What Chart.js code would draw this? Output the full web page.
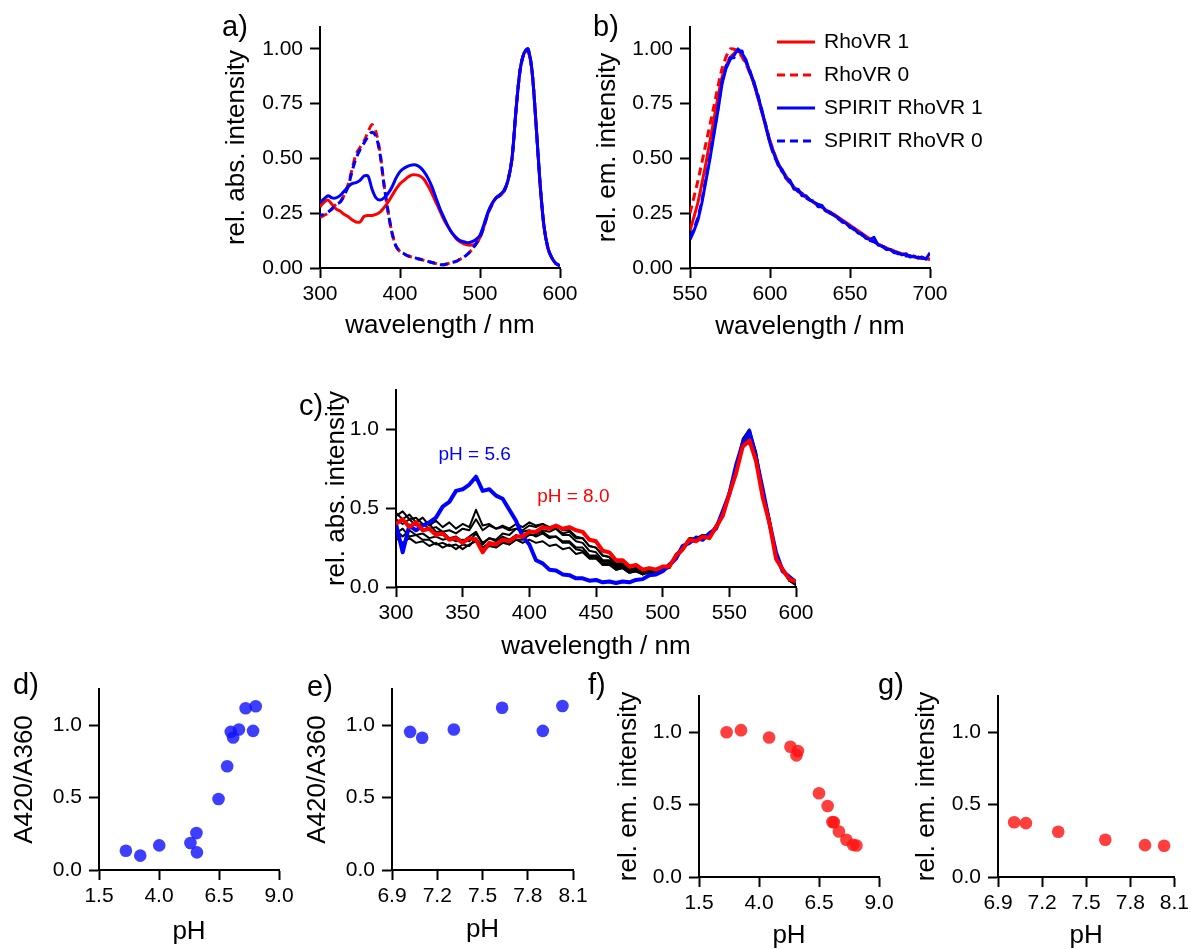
<!DOCTYPE html>
<html lang="en">
<head>
<meta charset="utf-8">
<title>RhoVR / SPIRIT RhoVR</title>
<script src="https://cdn.jsdelivr.net/npm/chart.js@4.4.1/dist/chart.umd.min.js"></script>
<style>
  html, body { margin: 0; padding: 0; background: #fff; }
  body { width: 1195px; height: 949px; position: relative; overflow: hidden;
         font-family: "Liberation Sans", Arial, Helvetica, sans-serif; }
  canvas { position: absolute; }
  .letra { position: absolute; font-size: 29px; line-height: 1; color: #000; white-space: nowrap; }
</style>
</head>
<body>
<canvas id="ga" width="390" height="350" style="left:200px;top:0px"></canvas>
<canvas id="gb" width="430" height="350" style="left:570px;top:0px"></canvas>
<canvas id="gc" width="526" height="310" style="left:300px;top:360px"></canvas>
<canvas id="gd" width="309" height="289" style="left:0px;top:660px"></canvas>
<canvas id="ge" width="313" height="289" style="left:290px;top:660px"></canvas>
<canvas id="gf" width="314" height="289" style="left:590px;top:660px"></canvas>
<canvas id="gg" width="315" height="289" style="left:880px;top:660px"></canvas>

<div class="letra" style="left:222px;top:12px">a)</div>
<div class="letra" style="left:593px;top:12px">b)</div>
<div class="letra" style="left:299px;top:391px">c)</div>
<div class="letra" style="left:13px;top:670px">d)</div>
<div class="letra" style="left:307px;top:672px">e)</div>
<div class="letra" style="left:588px;top:670px">f)</div>
<div class="letra" style="left:878px;top:670px">g)</div>

<script>
/* ---------- datos ---------- */

// longitudes de onda de absorcion (paneles a y c), cada 5 nm
const ONDA_ABS = [300, 305, 310, 315, 320, 325, 330, 335, 340, 345,
  350, 355, 360, 365, 370, 375, 380, 385, 390, 395,
  400, 405, 410, 415, 420, 425, 430, 435, 440, 445,
  450, 455, 460, 465, 470, 475, 480, 485, 490, 495,
  500, 505, 510, 515, 520, 525, 530, 535, 540, 545,
  550, 555, 560, 565, 570, 575, 580, 585, 590, 595, 600];

// a) absorcion normalizada
const ABS_RHOVR1 = [0.28, 0.30, 0.31, 0.29, 0.27, 0.26, 0.245, 0.235, 0.22, 0.21,
  0.21, 0.235, 0.24, 0.24, 0.245, 0.255, 0.275, 0.30, 0.33, 0.36,
  0.385, 0.40, 0.415, 0.425, 0.425, 0.42, 0.405, 0.375, 0.34, 0.30,
  0.26, 0.22, 0.19, 0.16, 0.135, 0.12, 0.11, 0.105, 0.105, 0.11,
  0.14, 0.19, 0.25, 0.29, 0.32, 0.33, 0.35, 0.40, 0.50, 0.72,
  0.90, 0.98, 0.99, 0.90, 0.66, 0.39, 0.19, 0.09, 0.045, 0.02, 0.01];
const ABS_RHOVR0 = [0.23, 0.24, 0.25, 0.27, 0.29, 0.30, 0.33, 0.38, 0.45, 0.52,
  0.55, 0.58, 0.62, 0.655, 0.62, 0.53, 0.38, 0.26, 0.16, 0.10,
  0.075, 0.065, 0.055, 0.05, 0.045, 0.04, 0.035, 0.03, 0.025, 0.02,
  0.015, 0.015, 0.02, 0.025, 0.03, 0.04, 0.05, 0.065, 0.085, 0.11,
  0.14, 0.19, 0.25, 0.29, 0.32, 0.33, 0.35, 0.40, 0.50, 0.72,
  0.90, 0.98, 0.99, 0.90, 0.66, 0.39, 0.19, 0.09, 0.045, 0.02, 0.01];
const ABS_SPIRIT1 = [0.30, 0.315, 0.33, 0.32, 0.32, 0.33, 0.35, 0.37, 0.385, 0.39,
  0.40, 0.42, 0.42, 0.36, 0.32, 0.31, 0.32, 0.34, 0.37, 0.41,
  0.44, 0.455, 0.465, 0.47, 0.47, 0.46, 0.44, 0.41, 0.37, 0.32,
  0.27, 0.23, 0.19, 0.16, 0.14, 0.125, 0.12, 0.115, 0.12, 0.13,
  0.15, 0.20, 0.255, 0.295, 0.32, 0.335, 0.355, 0.40, 0.50, 0.72,
  0.90, 0.98, 1.00, 0.90, 0.66, 0.39, 0.19, 0.09, 0.045, 0.02, 0.01];
const ABS_SPIRIT0 = [0.24, 0.245, 0.255, 0.27, 0.29, 0.30, 0.33, 0.37, 0.44, 0.50,
  0.54, 0.57, 0.60, 0.62, 0.60, 0.52, 0.38, 0.26, 0.16, 0.10,
  0.075, 0.065, 0.055, 0.05, 0.045, 0.04, 0.035, 0.03, 0.025, 0.02,
  0.015, 0.015, 0.02, 0.025, 0.03, 0.04, 0.05, 0.065, 0.085, 0.11,
  0.14, 0.19, 0.25, 0.29, 0.32, 0.33, 0.35, 0.40, 0.50, 0.72,
  0.90, 0.98, 1.00, 0.90, 0.66, 0.39, 0.19, 0.09, 0.045, 0.02, 0.01];

// b) emision normalizada
const ONDA_EM_5 = [550, 555, 560, 565, 570, 575, 580, 585, 590, 595,
  600, 605, 610, 615, 620, 625, 630, 635, 640, 645,
  650, 655, 660, 665, 670, 675, 680, 685, 690, 695, 700];
const ONDA_EM_25 = [550, 552.5, 555, 557.5, 560, 562.5, 565, 567.5, 570, 572.5,
  575, 577.5, 580, 582.5, 585, 587.5, 590, 592.5, 595, 597.5,
  600, 602.5, 605, 607.5, 610, 612.5, 615, 617.5, 620, 622.5,
  625, 627.5, 630, 632.5, 635, 637.5, 640, 642.5, 645, 647.5,
  650, 652.5, 655, 657.5, 660, 662.5, 665, 667.5, 670, 672.5,
  675, 677.5, 680, 682.5, 685, 687.5, 690, 692.5, 695, 697.5, 700];
const EM_RHOVR1 = [0.17, 0.30, 0.48, 0.68, 0.87, 0.96, 0.99, 0.94, 0.84, 0.71,
  0.58, 0.48, 0.42, 0.37, 0.34, 0.31, 0.29, 0.265, 0.245, 0.22,
  0.195, 0.17, 0.145, 0.12, 0.10, 0.085, 0.07, 0.06, 0.05, 0.045, 0.04];
const EM_RHOVR0 = [0.25, 0.40, 0.57, 0.74, 0.91, 1.00, 0.99, 0.93, 0.84, 0.71,
  0.58, 0.48, 0.41, 0.365, 0.335, 0.31, 0.285, 0.26, 0.24, 0.215,
  0.19, 0.165, 0.14, 0.12, 0.10, 0.085, 0.07, 0.06, 0.05, 0.045, 0.04];
const EM_SPIRIT1 = [0.13, 0.17, 0.22, 0.30, 0.40, 0.50, 0.61, 0.72, 0.84, 0.91,
  0.95, 0.97, 1.00, 0.98, 0.95, 0.89, 0.85, 0.78, 0.72, 0.64,
  0.57, 0.52, 0.47, 0.45, 0.41, 0.40, 0.36, 0.36, 0.33, 0.33,
  0.31, 0.30, 0.29, 0.285, 0.26, 0.255, 0.24, 0.23, 0.21, 0.205,
  0.185, 0.18, 0.16, 0.155, 0.135, 0.13, 0.14, 0.105, 0.10, 0.085,
  0.085, 0.07, 0.07, 0.06, 0.065, 0.05, 0.055, 0.045, 0.05, 0.04, 0.07];
const EM_SPIRIT0 = [0.14, 0.18, 0.23, 0.31, 0.41, 0.51, 0.62, 0.73, 0.85, 0.92,
  0.96, 0.96, 0.99, 0.99, 0.94, 0.90, 0.84, 0.79, 0.71, 0.65,
  0.57, 0.51, 0.48, 0.44, 0.42, 0.39, 0.37, 0.35, 0.34, 0.32,
  0.31, 0.305, 0.28, 0.28, 0.265, 0.25, 0.24, 0.225, 0.215, 0.20,
  0.19, 0.175, 0.165, 0.15, 0.14, 0.125, 0.12, 0.11, 0.10, 0.09,
  0.08, 0.075, 0.065, 0.065, 0.055, 0.055, 0.05, 0.05, 0.045, 0.045, 0.05];

// c) titulacion de pH (absorcion)
const ABS_PH56 = [0.40, 0.22, 0.39, 0.36, 0.39, 0.41, 0.44, 0.51, 0.54, 0.61,
  0.62, 0.65, 0.70, 0.61, 0.62, 0.58, 0.56, 0.49, 0.42, 0.32,
  0.27, 0.17, 0.15, 0.11, 0.105, 0.08, 0.075, 0.055, 0.055, 0.04,
  0.045, 0.03, 0.035, 0.025, 0.035, 0.03, 0.045, 0.05, 0.075, 0.08,
  0.10, 0.14, 0.18, 0.26, 0.28, 0.31, 0.30, 0.34, 0.37, 0.48,
  0.59, 0.77, 0.91, 0.99, 0.82, 0.62, 0.41, 0.22, 0.10, 0.065, 0.03];
const ABS_PH80 = [0.40, 0.43, 0.38, 0.41, 0.36, 0.37, 0.33, 0.34, 0.30, 0.31,
  0.28, 0.31, 0.30, 0.22, 0.28, 0.27, 0.30, 0.29, 0.32, 0.32,
  0.35, 0.35, 0.38, 0.37, 0.39, 0.37, 0.38, 0.36, 0.35, 0.30,
  0.29, 0.23, 0.22, 0.17, 0.17, 0.13, 0.14, 0.11, 0.12, 0.11,
  0.13, 0.13, 0.20, 0.24, 0.30, 0.29, 0.32, 0.31, 0.38, 0.45,
  0.59, 0.72, 0.89, 0.93, 0.80, 0.57, 0.41, 0.18, 0.11, 0.05, 0.035];
// pH intermedios (trazas negras)
const ABS_INTERMEDIOS = [
  [0.47, 0.43, 0.46, 0.41, 0.44, 0.39, 0.42, 0.38, 0.41, 0.37,
   0.40, 0.38, 0.49, 0.39, 0.40, 0.37, 0.38, 0.36, 0.37, 0.35,
   0.36, 0.34, 0.35, 0.32, 0.32, 0.28, 0.28, 0.24, 0.23, 0.19,
   0.19, 0.15, 0.15, 0.11, 0.12, 0.09, 0.10, 0.08, 0.09, 0.085,
   0.10, 0.15, 0.18, 0.25, 0.28, 0.32, 0.31, 0.34, 0.37, 0.48,
   0.59, 0.77, 0.91, 0.99, 0.85, 0.61, 0.43, 0.20, 0.11, 0.04, 0.02],
  [0.43, 0.40, 0.43, 0.39, 0.40, 0.37, 0.38, 0.35, 0.36, 0.34,
   0.37, 0.36, 0.43, 0.36, 0.39, 0.37, 0.39, 0.37, 0.40, 0.38,
   0.41, 0.39, 0.40, 0.37, 0.37, 0.33, 0.33, 0.29, 0.28, 0.23,
   0.22, 0.17, 0.17, 0.13, 0.13, 0.10, 0.11, 0.09, 0.10, 0.09,
   0.12, 0.13, 0.21, 0.24, 0.31, 0.30, 0.33, 0.32, 0.39, 0.45,
   0.60, 0.74, 0.92, 0.97, 0.84, 0.60, 0.42, 0.19, 0.11, 0.04, 0.02],
  [0.36, 0.32, 0.36, 0.33, 0.34, 0.31, 0.32, 0.30, 0.31, 0.29,
   0.30, 0.29, 0.34, 0.28, 0.31, 0.29, 0.32, 0.30, 0.33, 0.31,
   0.34, 0.32, 0.34, 0.31, 0.32, 0.29, 0.29, 0.25, 0.25, 0.20,
   0.20, 0.16, 0.16, 0.12, 0.13, 0.10, 0.11, 0.08, 0.10, 0.09,
   0.12, 0.12, 0.19, 0.23, 0.29, 0.29, 0.32, 0.32, 0.38, 0.45,
   0.59, 0.73, 0.91, 0.96, 0.83, 0.59, 0.42, 0.20, 0.12, 0.05, 0.03],
  [0.31, 0.28, 0.31, 0.28, 0.29, 0.26, 0.28, 0.25, 0.27, 0.24,
   0.27, 0.26, 0.31, 0.25, 0.28, 0.26, 0.29, 0.27, 0.30, 0.28,
   0.30, 0.28, 0.29, 0.26, 0.27, 0.24, 0.25, 0.21, 0.22, 0.18,
   0.18, 0.14, 0.14, 0.11, 0.12, 0.09, 0.10, 0.08, 0.10, 0.085,
   0.11, 0.12, 0.20, 0.24, 0.30, 0.30, 0.33, 0.32, 0.39, 0.46,
   0.61, 0.76, 0.94, 1.00, 0.86, 0.62, 0.44, 0.21, 0.12, 0.04, 0.01],
  [0.45, 0.48, 0.43, 0.44, 0.40, 0.40, 0.35, 0.35, 0.31, 0.32,
   0.29, 0.32, 0.35, 0.27, 0.31, 0.30, 0.34, 0.33, 0.37, 0.36,
   0.39, 0.38, 0.40, 0.38, 0.39, 0.36, 0.36, 0.32, 0.31, 0.26,
   0.25, 0.20, 0.19, 0.15, 0.15, 0.11, 0.12, 0.09, 0.11, 0.09,
   0.12, 0.13, 0.21, 0.25, 0.31, 0.31, 0.33, 0.33, 0.39, 0.45,
   0.59, 0.73, 0.90, 0.95, 0.83, 0.59, 0.41, 0.19, 0.11, 0.05, 0.03],
  [0.34, 0.37, 0.32, 0.33, 0.30, 0.30, 0.27, 0.28, 0.26, 0.27,
   0.24, 0.27, 0.29, 0.23, 0.26, 0.25, 0.28, 0.27, 0.30, 0.30,
   0.33, 0.33, 0.36, 0.35, 0.37, 0.34, 0.35, 0.31, 0.31, 0.26,
   0.25, 0.20, 0.19, 0.14, 0.14, 0.11, 0.12, 0.09, 0.11, 0.10,
   0.12, 0.12, 0.20, 0.24, 0.30, 0.30, 0.33, 0.32, 0.38, 0.45,
   0.60, 0.74, 0.91, 0.97, 0.84, 0.60, 0.42, 0.19, 0.11, 0.04, 0.02],
];
const ETIQUETAS_PH = ['pH = 5.6', 'pH = 8.0'];

// d) y e) cociente A420/A360
const PH_D = [2.62, 3.22, 4.01, 5.31, 5.56, 5.58, 6.48, 6.84, 6.99, 7.09, 7.33, 7.61, 7.92, 8.03];
const COCIENTE_D = [0.133, 0.099, 0.17, 0.186, 0.255, 0.122, 0.49, 0.717, 0.954, 0.915, 0.97, 1.117, 0.961, 1.131];
const PH_E = [7.02, 7.10, 7.31, 7.63, 7.90, 8.03];
const COCIENTE_E = [0.954, 0.913, 0.970, 1.12, 0.961, 1.133];

// f) y g) emision relativa
const PH_F = [2.65, 3.25, 4.42, 5.31, 5.62, 5.56, 6.50, 6.86, 7.06, 7.12, 7.33, 7.64, 7.92, 8.06];
const EMISION_F = [1.0, 1.014, 0.963, 0.90, 0.87, 0.84, 0.578, 0.49, 0.38, 0.378, 0.314, 0.257, 0.222, 0.218];
const PH_G = [7.01, 7.09, 7.31, 7.63, 7.90, 8.03];
const EMISION_G = [0.378, 0.372, 0.312, 0.257, 0.220, 0.216];

/* ---------- estilo ---------- */
const FUENTE = '"Liberation Sans", Arial, Helvetica, sans-serif';
const ROJO = '#ff0000', AZUL = '#0000ff', NEGRO = '#000000';
const PUNTO_AZUL = 'rgba(20,20,255,0.82)', PUNTO_ROJO = 'rgba(255,20,20,0.82)';
Chart.defaults.font.family = FUENTE;
Chart.defaults.color = '#000';

function serie(xs, ys) { return xs.map((x, i) => ({ x, y: ys[i] })); }

function linea(etiqueta, xs, ys, color, ancho, guiones, orden, tension) {
  return {
    label: etiqueta, data: serie(xs, ys), showLine: true,
    borderColor: color, backgroundColor: color, borderWidth: ancho,
    borderDash: guiones || [], pointRadius: 0, tension: tension || 0,
    borderJoinStyle: 'round', order: orden, fill: false,
  };
}

function puntos(xs, ys, color) {
  return { data: serie(xs, ys), backgroundColor: color, borderWidth: 0, pointRadius: 6.3 };
}

// eje horizontal con marcas hacia fuera y alto fijo
function ejeX(min, max, paso, dec, titulo, alto, padTitulo) {
  return {
    type: 'linear', position: 'bottom', min, max,
    afterFit: s => { s.height = alto; },
    border: { display: true, color: NEGRO, width: 2 },
    grid: { drawOnChartArea: false, drawTicks: true, tickLength: 10, tickWidth: 2, tickColor: NEGRO },
    ticks: { stepSize: paso, includeBounds: false, autoSkip: false, maxRotation: 0, padding: 6, color: NEGRO,
             font: { size: 21, lineHeight: 1 }, callback: v => Number(v).toFixed(dec) },
    title: { display: true, text: titulo, color: NEGRO, font: { size: 26, lineHeight: 1 },
             padding: { top: 0, bottom: padTitulo } },
  };
}

function ejeY(min, max, paso, dec, titulo, ancho, padTitulo) {
  return {
    type: 'linear', position: 'left', min, max,
    afterFit: s => { s.width = ancho; },
    border: { display: true, color: NEGRO, width: 2 },
    grid: { drawOnChartArea: false, drawTicks: true, tickLength: 10, tickWidth: 2, tickColor: NEGRO },
    ticks: { stepSize: paso, includeBounds: false, autoSkip: false, padding: 7, color: NEGRO,
             font: { size: 21, lineHeight: 1 }, callback: v => Number(v).toFixed(dec) },
    title: { display: true, text: titulo, color: NEGRO, font: { size: 26, lineHeight: 1 },
             padding: { top: padTitulo, bottom: 0 } },
  };
}

// leyenda dibujada dentro del area del panel b
const leyendaInterna = {
  id: 'leyendaInterna',
  afterDraw(chart, args, o) {
    if (!o.activa) return;
    const { ctx, chartArea } = chart;
    chart.data.datasets.forEach((ds, i) => {
      const y = chartArea.top + o.arriba + i * o.paso;
      const x0 = chartArea.left + o.izq;
      ctx.save();
      ctx.strokeStyle = ds.borderColor;
      ctx.lineWidth = ds.borderWidth;
      ctx.setLineDash(ds.borderDash || []);
      ctx.beginPath(); ctx.moveTo(x0, y); ctx.lineTo(x0 + o.largo, y); ctx.stroke();
      ctx.setLineDash([]);
      ctx.fillStyle = NEGRO;
      ctx.font = '21px ' + FUENTE;
      ctx.textBaseline = 'middle';
      ctx.fillText(ds.label, x0 + o.largo + o.sep, y);
      ctx.restore();
    });
  },
};

// textos de pH colocados en coordenadas de datos (panel c)
const anotaciones = {
  id: 'anotaciones',
  afterDatasetsDraw(chart, args, o) {
    const { ctx, scales } = chart;
    (o.textos || []).forEach(t => {
      ctx.save();
      ctx.font = '19px ' + FUENTE;
      ctx.fillStyle = t.color;
      ctx.textAlign = 'center';
      ctx.textBaseline = 'middle';
      ctx.fillText(t.texto, scales.x.getPixelForValue(t.x), scales.y.getPixelForValue(t.y));
      ctx.restore();
    });
  },
};
Chart.register(leyendaInterna, anotaciones);

function crearPanel(id, datasets, x, y, relleno, extra) {
  return new Chart(document.getElementById(id), {
    type: 'scatter',
    data: { datasets },
    options: {
      responsive: false, animation: false, events: [],
      layout: { padding: Object.assign({ left: 0, bottom: 0 }, relleno) },
      scales: { x, y },
      plugins: Object.assign({ legend: { display: false }, tooltip: { enabled: false } }, extra || {}),
    },
  });
}

/* ---------- paneles ---------- */
// a) absorcion
crearPanel('ga', [
  linea('RhoVR 1', ONDA_ABS, ABS_RHOVR1, ROJO, 3, null, 2, 0.3),
  linea('RhoVR 0', ONDA_ABS, ABS_RHOVR0, ROJO, 3, [8, 5], 2, 0.3),
  linea('SPIRIT RhoVR 1', ONDA_ABS, ABS_SPIRIT1, AZUL, 3, null, 1, 0.3),
  Object.assign(linea('SPIRIT RhoVR 0', ONDA_ABS, ABS_SPIRIT0, AZUL, 3, [8, 5], 1, 0.3), { borderDashOffset: 4 }),
], ejeX(300, 600, 100, 0, 'wavelength / nm', 82, 11),
   ejeY(0, 1.1, 0.25, 2, 'rel. abs. intensity', 120, 24),
   { top: 27, right: 30 });

// b) emision
crearPanel('gb', [
  linea('RhoVR 1', ONDA_EM_5, EM_RHOVR1, ROJO, 3, null, 2, 0.2),
  linea('RhoVR 0', ONDA_EM_5, EM_RHOVR0, ROJO, 3, [8, 5], 2, 0.2),
  linea('SPIRIT RhoVR 1', ONDA_EM_25, EM_SPIRIT1, AZUL, 3, null, 1, 0),
  linea('SPIRIT RhoVR 0', ONDA_EM_25, EM_SPIRIT0, AZUL, 3, [8, 5], 1, 0),
], ejeX(550, 700, 50, 0, 'wavelength / nm', 82, 10),
   ejeY(0, 1.1, 0.25, 2, 'rel. em. intensity', 120, 25),
   { top: 27, right: 70 },
   { leyendaInterna: { activa: true, izq: 87, arriba: 15, paso: 33, largo: 38, sep: 9 } });

// c) titulacion de pH
crearPanel('gc', [
  linea('pH 8.0', ONDA_ABS, ABS_PH80, ROJO, 4, null, 1, 0),
  linea('pH 5.6', ONDA_ABS, ABS_PH56, AZUL, 4, null, 2, 0),
  ...ABS_INTERMEDIOS.map((ys, i) => linea('pH intermedio ' + (i + 1), ONDA_ABS, ys, NEGRO, 2, null, 3, 0)),
], ejeX(300, 600, 50, 0, 'wavelength / nm', 83, 10),
   ejeY(0, 1.25, 0.5, 1, 'rel. abs. intensity', 96, 24),
   { top: 30, right: 30 },
   { anotaciones: { textos: [
     { texto: ETIQUETAS_PH[0], x: 359, y: 0.84, color: AZUL },
     { texto: ETIQUETAS_PH[1], x: 433, y: 0.573, color: ROJO },
   ] } });

// d) - g) diagramas de puntos frente al pH
crearPanel('gd', [puntos(PH_D, COCIENTE_D, PUNTO_AZUL)],
  ejeX(1.5, 9.0, 2.5, 1, 'pH', 79, 4), ejeY(0, 1.25, 0.5, 1, 'A420/A360', 99, 12), { top: 29, right: 30 });
crearPanel('ge', [puntos(PH_E, COCIENTE_E, PUNTO_AZUL)],
  ejeX(6.9, 8.1, 0.3, 1, 'pH', 79, 6), ejeY(0, 1.25, 0.5, 1, 'A420/A360', 102, 15), { top: 29, right: 30 });
crearPanel('gf', [puntos(PH_F, EMISION_F, PUNTO_ROJO)],
  ejeX(1.5, 9.0, 2.5, 1, 'pH', 72, 0), ejeY(0, 1.25, 0.5, 1, 'rel. em. intensity', 109, 26), { top: 36, right: 25 });
crearPanel('gg', [puntos(PH_G, EMISION_G, PUNTO_ROJO)],
  ejeX(6.9, 8.1, 0.3, 1, 'pH', 72, 0), ejeY(0, 1.25, 0.5, 1, 'rel. em. intensity', 118, 34), { top: 36, right: 16 });
</script>
</body>
</html>
